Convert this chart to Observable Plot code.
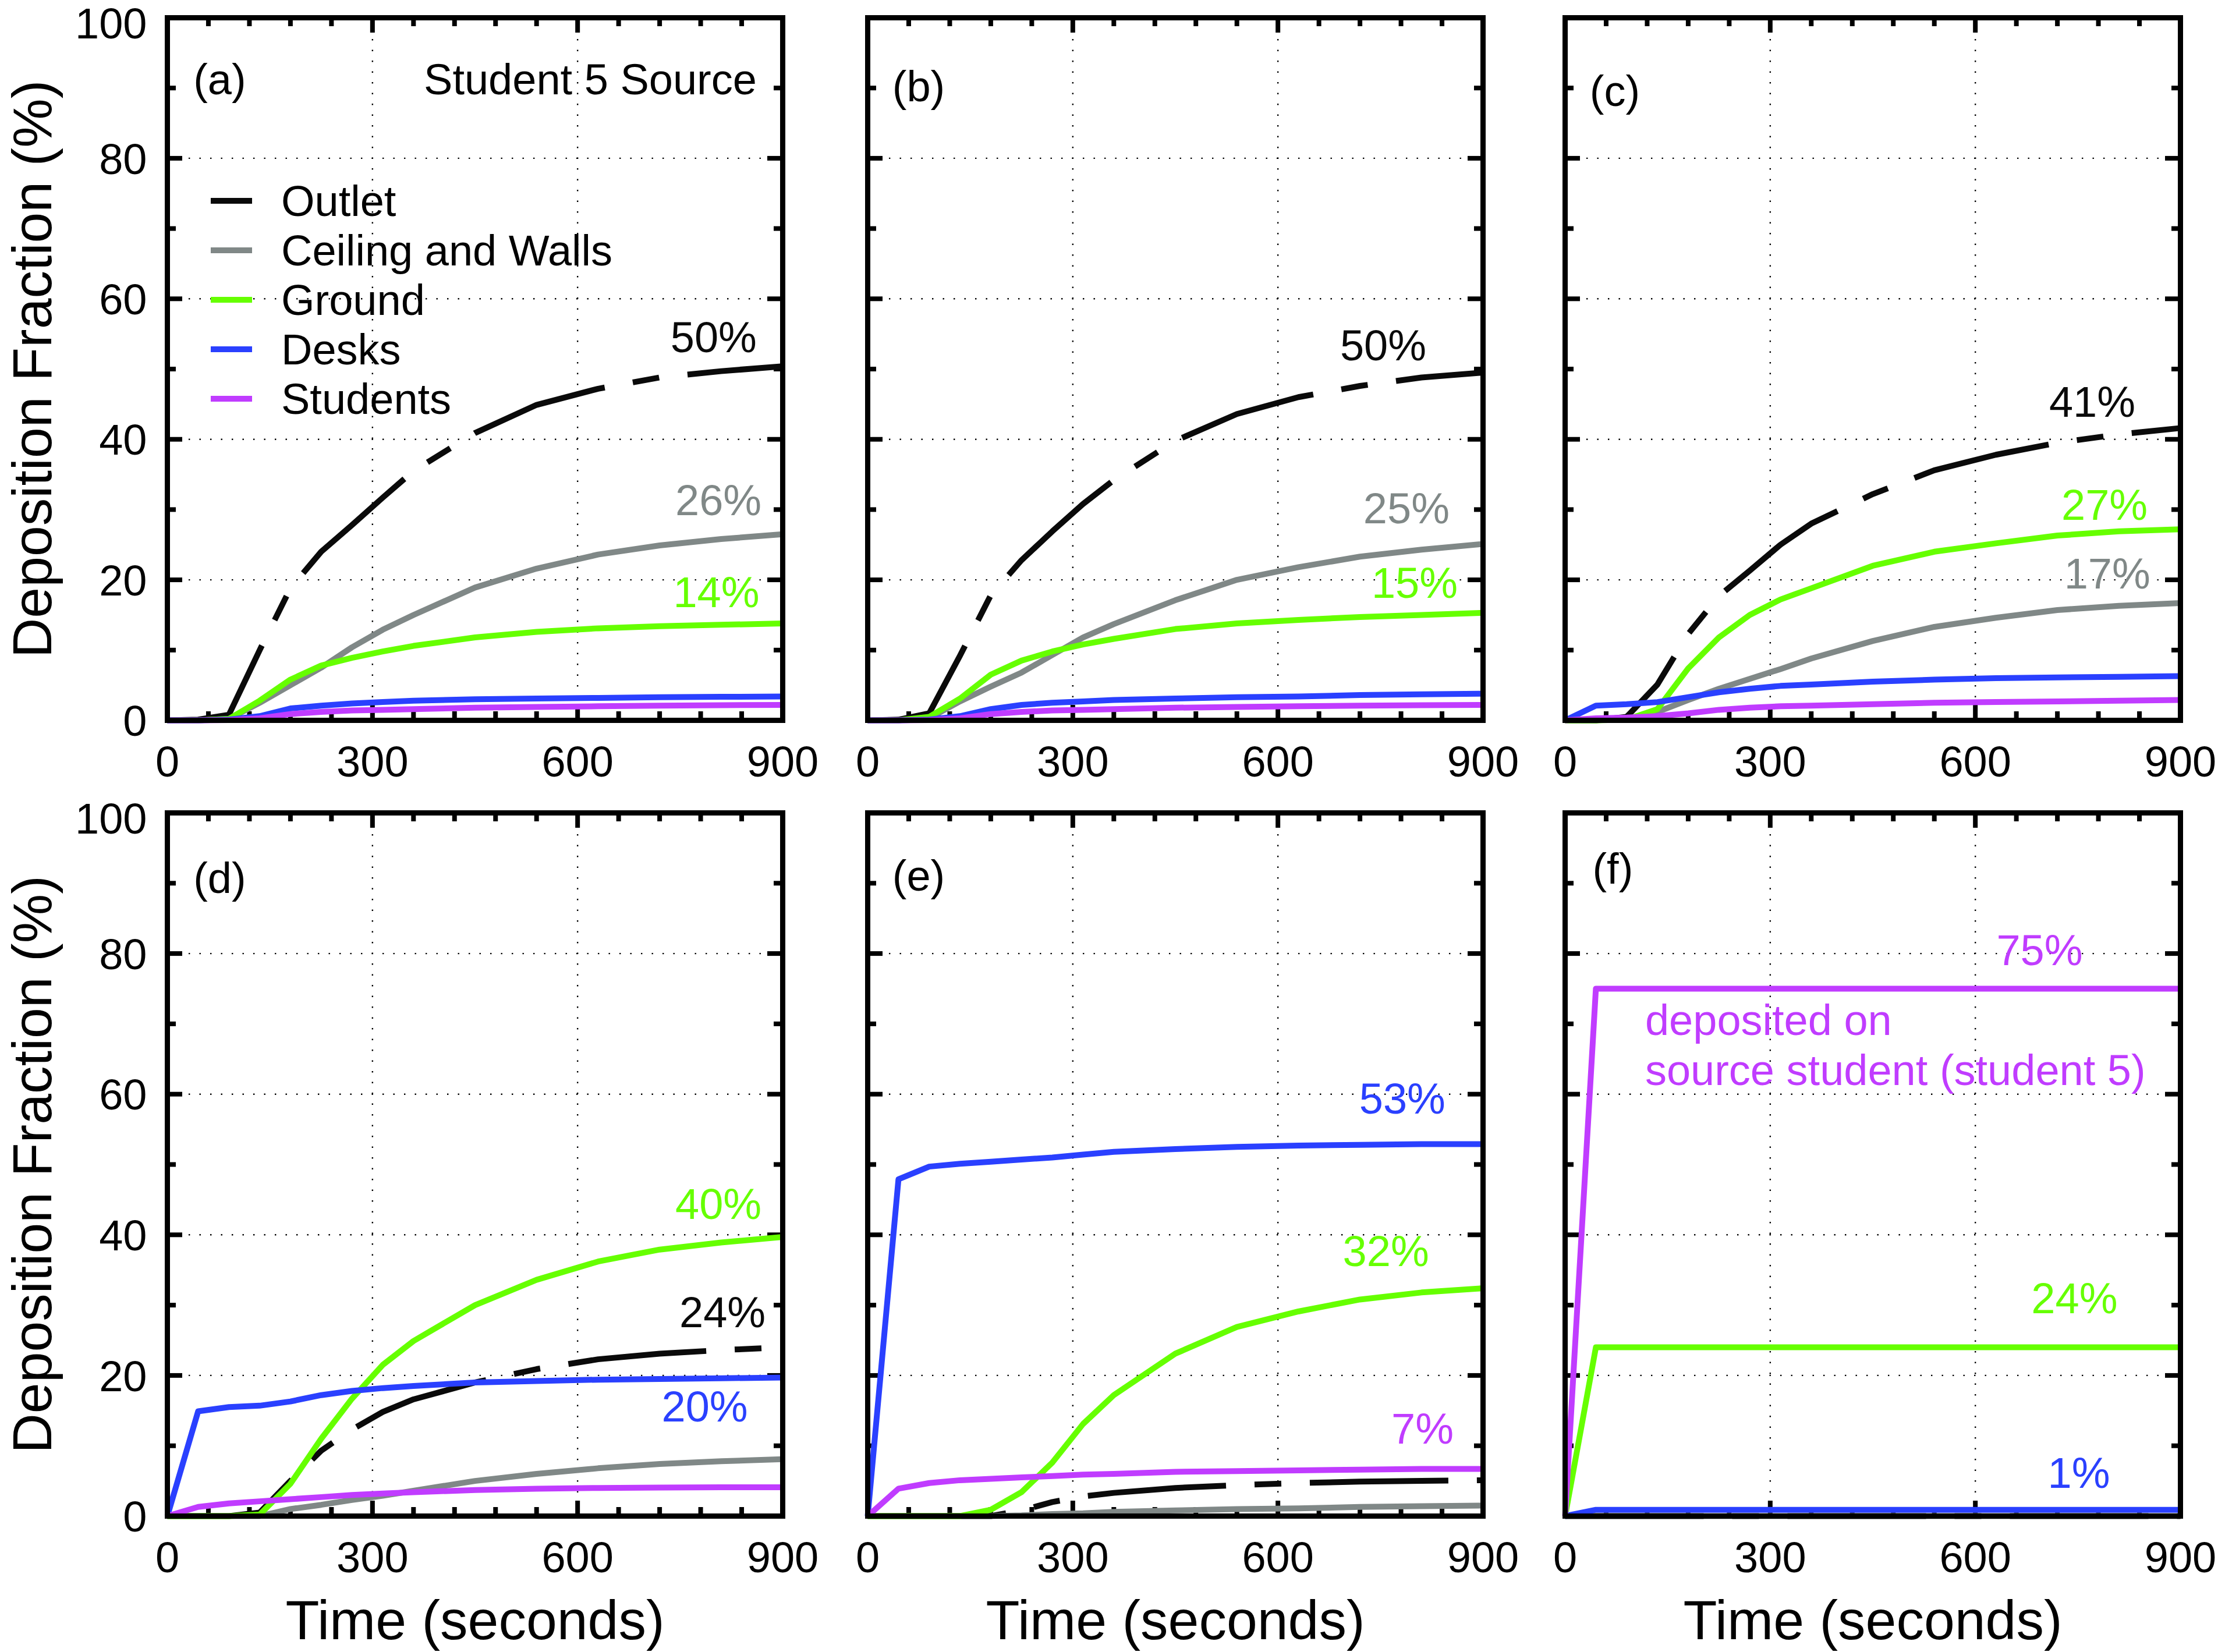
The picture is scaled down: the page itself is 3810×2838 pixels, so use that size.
<!DOCTYPE html>
<html><head><meta charset="utf-8">
<script src="https://cdn.jsdelivr.net/npm/d3@7"></script>
<script src="https://cdn.jsdelivr.net/npm/@observablehq/plot@0.6"></script>
<style>
html,body{margin:0;padding:0;background:#fff;}
#chart{position:relative;width:3810px;height:2838px;background:#fff;font-family:"Liberation Sans",Arial,Helvetica,sans-serif;overflow:hidden;}
.leg-sw{position:absolute;height:10px;width:71px;}
.leg-tx{position:absolute;font-size:74px;line-height:74px;color:#000;white-space:nowrap;}
</style></head><body><div id="chart"></div>
<script>
// ---------- data ----------
const TIME = [0,45,90,135,180,225,270,315,360,450,540,630,720,810,900];
const SERIES = ["Outlet","Ceiling and Walls","Ground","Desks","Students"];
const COLORS = {"Outlet":"#0a0a0a","Ceiling and Walls":"#808887","Ground":"#66ff00","Desks":"#2a40ff","Students":"#c03cff"};
const PANELS = ["a","b","c","d","e","f"];
const X_TICKS = [0,300,600,900];
const Y_TICKS = [0,20,40,60,80];
const Y_TOP_TICK = [100];
const X_GRID = [300,600];
const Y_GRID = [20,40,60,80];
const X_MINOR = [60,120,180,240,360,420,480,540,660,720,780,840];
const X_MAJOR = [300,600];
const Y_MINOR = [10,30,50,70,90];
const Y_MAJOR = [20,40,60,80];

const a_outlet   = [0,0.1,0.8,10.0,18.8,24.0,27.8,31.7,35.5,40.9,44.9,47.2,48.8,49.7,50.4];
const a_ceiling  = [0,0,0.2,2.5,5.0,7.5,10.4,12.9,15.0,18.9,21.6,23.6,24.9,25.8,26.5];
const a_ground   = [0,0,0.2,2.8,5.8,7.8,8.9,9.8,10.6,11.8,12.6,13.1,13.4,13.6,13.8];
const a_desks    = [0,0,0.1,0.6,1.7,2.1,2.4,2.6,2.8,3.0,3.1,3.2,3.3,3.35,3.4];
const a_students = [0,0,0.05,0.3,0.9,1.2,1.4,1.5,1.6,1.8,1.9,2.0,2.1,2.15,2.2];

const b_outlet   = [0,0.1,1.0,9.2,17.8,22.8,26.9,30.8,34.2,39.8,43.6,46.0,47.6,48.8,49.5];
const b_ceiling  = [0,0,0.3,2.7,4.8,6.8,9.3,11.8,13.7,17.1,20.0,21.8,23.3,24.3,25.1];
const b_ground   = [0,0,0.5,3.1,6.5,8.5,9.8,10.8,11.6,13.0,13.8,14.3,14.7,15.0,15.3];
const b_desks    = [0,0,0.1,0.6,1.6,2.2,2.5,2.7,2.9,3.1,3.3,3.4,3.6,3.7,3.8];
const b_students = [0,0,0.05,0.3,0.9,1.2,1.4,1.5,1.6,1.8,1.9,2.0,2.1,2.15,2.2];

const c_outlet   = [0,0,0.5,5.1,12.3,17.7,21.3,25.0,28.0,32.2,35.6,37.8,39.5,40.7,41.6];
const c_ceiling  = [0,0,0.2,1.2,2.9,4.5,5.9,7.3,8.8,11.3,13.3,14.6,15.7,16.3,16.7];
const c_ground   = [0,0,0.1,1.6,7.4,11.8,15.0,17.2,18.8,22.0,24.0,25.2,26.3,26.9,27.2];
const c_desks    = [0,2.1,2.3,2.6,3.3,4.0,4.5,4.9,5.1,5.5,5.8,6.0,6.1,6.2,6.3];
const c_students = [0,0.3,0.4,0.6,1.0,1.5,1.8,2.0,2.1,2.3,2.5,2.6,2.7,2.8,2.9];

const d_outlet   = [0,0,0,0.5,5.0,9.3,12.3,14.8,16.6,19.0,20.9,22.3,23.1,23.6,24.0];
const d_ceiling  = [0,0,0,0,1.0,1.6,2.3,2.9,3.6,5.0,6.0,6.8,7.4,7.8,8.1];
const d_ground   = [0,0,0,0.2,4.6,11.0,16.7,21.5,24.9,30.0,33.6,36.2,37.9,38.9,39.7];
const d_desks    = [0,14.9,15.5,15.7,16.3,17.2,17.8,18.2,18.5,19.0,19.2,19.4,19.5,19.6,19.7];
const d_students = [0,1.3,1.8,2.1,2.4,2.7,3.0,3.2,3.4,3.7,3.9,4.0,4.05,4.1,4.1];

const e_outlet   = [0,0,0,0,0,0.8,2.0,2.8,3.3,4.0,4.4,4.7,4.9,5.0,5.1];
const e_ceiling  = [0,0,0,0,0,0.1,0.3,0.4,0.6,0.8,1.0,1.1,1.3,1.4,1.5];
const e_ground   = [0,0,0,0,0.9,3.4,7.6,13.1,17.2,23.1,26.9,29.1,30.8,31.8,32.4];
const e_desks    = [0,47.9,49.7,50.1,50.4,50.7,51.0,51.4,51.8,52.2,52.5,52.7,52.8,52.9,52.9];
const e_students = [0,3.9,4.7,5.1,5.3,5.5,5.7,5.9,6.0,6.3,6.4,6.5,6.6,6.7,6.7];

const f_outlet   = [0,0,0,0,0,0,0,0,0,0,0,0,0,0,0];
const f_ceiling  = [0,0,0,0,0,0,0,0,0,0,0,0,0,0,0];
const f_ground   = [0,24,24,24,24,24,24,24,24,24,24,24,24,24,24];
const f_desks    = [0,0.9,0.9,0.9,0.9,0.9,0.9,0.9,0.9,0.9,0.9,0.9,0.9,0.9,0.9];
const f_students = [0,75,75,75,75,75,75,75,75,75,75,75,75,75,75];

const NOTES = [
  {panel:"a", text:"(a)", t:38, v:91.1, anchor:"start"},
  {panel:"a", text:"Student 5 Source", t:862, v:91.1, anchor:"end"},
  {panel:"a", text:"50%", series:"Outlet", t:862, v:54.4, anchor:"end"},
  {panel:"a", text:"26%", series:"Ceiling and Walls", t:869, v:31.2, anchor:"end"},
  {panel:"a", text:"14%", series:"Ground", t:866, v:18.1, anchor:"end"},
  {panel:"b", text:"(b)", t:36, v:90.1, anchor:"start"},
  {panel:"b", text:"50%", series:"Outlet", t:817, v:53.2, anchor:"end"},
  {panel:"b", text:"25%", series:"Ceiling and Walls", t:851, v:30.0, anchor:"end"},
  {panel:"b", text:"15%", series:"Ground", t:863, v:19.4, anchor:"end"},
  {panel:"c", text:"(c)", t:36, v:89.4, anchor:"start"},
  {panel:"c", text:"41%", series:"Outlet", t:834, v:45.2, anchor:"end"},
  {panel:"c", text:"27%", series:"Ground", t:852, v:30.5, anchor:"end"},
  {panel:"c", text:"17%", series:"Ceiling and Walls", t:856, v:20.7, anchor:"end"},
  {panel:"d", text:"(d)", t:38, v:90.6, anchor:"start"},
  {panel:"d", text:"40%", series:"Ground", t:869, v:44.2, anchor:"end"},
  {panel:"d", text:"24%", series:"Outlet", t:875, v:28.8, anchor:"end"},
  {panel:"d", text:"20%", series:"Desks", t:849, v:15.4, anchor:"end"},
  {panel:"e", text:"(e)", t:36, v:90.9, anchor:"start"},
  {panel:"e", text:"53%", series:"Desks", t:845, v:59.2, anchor:"end"},
  {panel:"e", text:"32%", series:"Ground", t:821, v:37.5, anchor:"end"},
  {panel:"e", text:"7%", series:"Students", t:857, v:12.3, anchor:"end"},
  {panel:"f", text:"(f)", t:40, v:91.9, anchor:"start"},
  {panel:"f", text:"75%", series:"Students", t:757, v:80.3, anchor:"end"},
  {panel:"f", text:"deposited on", series:"Students", t:117, v:70.4, anchor:"start"},
  {panel:"f", text:"source student (student 5)", series:"Students", t:117, v:63.3, anchor:"start"},
  {panel:"f", text:"24%", series:"Ground", t:808, v:30.8, anchor:"end"},
  {panel:"f", text:"1%", series:"Desks", t:797, v:6.0, anchor:"end"}
];

const DATA = {
  a:[a_outlet,a_ceiling,a_ground,a_desks,a_students],
  b:[b_outlet,b_ceiling,b_ground,b_desks,b_students],
  c:[c_outlet,c_ceiling,c_ground,c_desks,c_students],
  d:[d_outlet,d_ceiling,d_ground,d_desks,d_students],
  e:[e_outlet,e_ceiling,e_ground,e_desks,e_students],
  f:[f_outlet,f_ceiling,f_ground,f_desks,f_students]
};

// ---------- layout ----------
const FONT = "'Liberation Sans', Arial, Helvetica, sans-serif";
const MR = 80, MB = 234;
const LAYOUT = {
  a:{left:0,    top:0,    ml:287, mt:30, w:1057, h:1207, yAxis:true,  xTitle:false},
  b:{left:1380, top:0,    ml:110, mt:30, w:1057, h:1207, yAxis:false, xTitle:false},
  c:{left:2578, top:0,    ml:110, mt:30, w:1057, h:1207, yAxis:false, xTitle:false},
  d:{left:0,    top:1336, ml:287, mt:60, w:1057, h:1208, yAxis:true,  xTitle:true},
  e:{left:1380, top:1336, ml:110, mt:60, w:1057, h:1208, yAxis:false, xTitle:true},
  f:{left:2578, top:1336, ml:110, mt:60, w:1057, h:1208, yAxis:false, xTitle:true}
};
const TICK_MINOR = 15, TICK_MAJOR = 26, TICK_W = 8;

const chart = document.getElementById("chart");

function makePanel(p) {
  const g = LAYOUT[p];
  const tk = {stroke:"#000", strokeWidth:TICK_W};
  const gridStyle = {stroke:"#000", strokeOpacity:1, strokeWidth:2.4, strokeDasharray:"2.4,16.1"};
  const marks = [
    Plot.gridX(X_GRID, gridStyle),
    Plot.gridY(Y_GRID, gridStyle),
    Plot.tickX(X_MINOR, {x:d=>d, insetTop:g.h-TICK_MINOR, ...tk}),
    Plot.tickX(X_MINOR, {x:d=>d, insetBottom:g.h-TICK_MINOR, ...tk}),
    Plot.tickX(X_MAJOR, {x:d=>d, insetTop:g.h-TICK_MAJOR, ...tk}),
    Plot.tickX(X_MAJOR, {x:d=>d, insetBottom:g.h-TICK_MAJOR, ...tk}),
    Plot.tickY(Y_MINOR, {y:d=>d, insetRight:g.w-TICK_MINOR, ...tk}),
    Plot.tickY(Y_MINOR, {y:d=>d, insetLeft:g.w-TICK_MINOR, ...tk}),
    Plot.tickY(Y_MAJOR, {y:d=>d, insetRight:g.w-TICK_MAJOR, ...tk}),
    Plot.tickY(Y_MAJOR, {y:d=>d, insetLeft:g.w-TICK_MAJOR, ...tk})
  ];
  SERIES.forEach((s, si) => {
    const rows = TIME.map((t, i) => ({t, v: DATA[p][si][i]}));
    marks.push(Plot.line(rows, {
      x:"t", y:"v", stroke:COLORS[s], strokeWidth:10,
      strokeDasharray: s === "Outlet" ? "238,49,46,49" : undefined,
      strokeLinecap:"butt", strokeLinejoin:"round"
    }));
  });
  NOTES.filter(n => n.panel === p).forEach(n => {
    marks.push(Plot.text([n], {
      x:"t", y:"v", text:"text", fill: n.series ? COLORS[n.series] : "#000",
      textAnchor:n.anchor, lineAnchor:"middle", fontSize:74
    }));
  });
  marks.push(Plot.frame({stroke:"#000", strokeWidth:9}));
  marks.push(Plot.axisX({ticks:X_TICKS, tickSize:0, tickPadding:44, fontSize:74, label:null, tickFormat:d=>String(d)}));
  if (g.yAxis) {
    marks.push(Plot.axisY({ticks:Y_TICKS, tickSize:0, tickPadding:35, fontSize:74, label:null, dy:3, tickFormat:d=>String(d)}));
    // top label nudged down a little so it stays inside the picture
    marks.push(Plot.axisY({ticks:Y_TOP_TICK, tickSize:0, tickPadding:35, fontSize:74, label:null, dy:12, tickFormat:d=>String(d)}));
    marks.push(Plot.text(["Deposition Fraction (%)"], {text:d=>d, frameAnchor:"left", rotate:-90, dx:-200, lineAnchor:"bottom", textAnchor:"middle", fontSize:95}));
  }
  if (g.xTitle) {
    marks.push(Plot.text(["Time (seconds)"], {text:d=>d, frameAnchor:"bottom", dy:211, lineAnchor:"bottom", textAnchor:"middle", fontSize:95}));
  }
  const svg = Plot.plot({
    width: g.ml + g.w + MR, height: g.mt + g.h + MB,
    marginLeft: g.ml, marginRight: MR, marginTop: g.mt, marginBottom: MB,
    x: {domain:[0,900]},
    y: g.yAxis ? {domain:[0,100]} : {domain:[0,100], axis:null},
    marks
  });
  Object.assign(svg.style, {
    position:"absolute", left:g.left+"px", top:g.top+"px",
    background:"transparent", overflow:"visible", maxWidth:"none",
    fontFamily:FONT, fontSize:"74px", color:"#000"
  });
  chart.appendChild(svg);
}
PANELS.forEach(makePanel);

// legend inside panel (a)
const LEG_X = 362, LEG_TX = 483, LEG_Y0 = 345, LEG_DY = 85;
SERIES.forEach((s, i) => {
  const cy = LEG_Y0 + i * LEG_DY;
  const sw = document.createElement("div");
  sw.className = "leg-sw";
  sw.style.left = LEG_X + "px";
  sw.style.top = (cy - 5) + "px";
  sw.style.background = COLORS[s];
  chart.appendChild(sw);
  const tx = document.createElement("div");
  tx.className = "leg-tx";
  tx.style.left = LEG_TX + "px";
  tx.style.top = (cy - 36) + "px";
  tx.textContent = s;
  chart.appendChild(tx);
});
</script></body></html>
